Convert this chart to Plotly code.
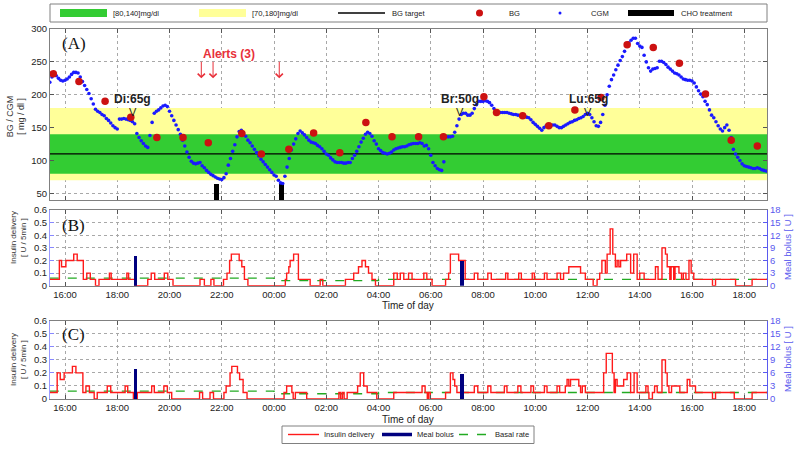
import plotly.graph_objects as go

# ---------------- data ----------------
cgm_start = "15:25"
cgm_step_min = 5
cgm_values = [
    219, 227, 232, 229, 225, 222, 221, 222, 224, 227, 231, 234,   # 15:25
    234, 233, 227, 220, 214, 208, 202, 194, 186, 178, 175, 173,   # 16:25
    170, 168, 164, 161, 157, 153, 150, 148, 163, 163, 164, 163,   # 17:25
    162, 161, 159, 156, 141, 135, 130, 126, 122, 120, 138, 158,   # 18:25
    172, 175, 177, 180, 183, 184, 182, 175, 168, 161, 154, 147,   # 19:25
    140, 131, 122, 113, 105, 99, 96, 95, 96, 97, 92, 89,          # 20:25
    85, 82, 79, 77, 75, 73, 72, 71, 74, 80, 93, 103,              # 21:25
    114, 124, 136, 144, 146, 142, 137, 131, 127, 122, 117, 112,   # 22:25
    107, 102, 98, 94, 90, 86, 82, 78, 76, 70, 66, 65,             # 23:25
    76, 90, 103, 116, 125, 133, 141, 145, 142, 139, 135, 131,     # 00:25
    128, 127, 126, 123, 121, 118, 114, 110, 108, 104, 101, 98,    # 01:25
    97, 97, 97, 96, 96, 97, 97, 103, 108, 114, 121, 128,          # 02:25
    134, 140, 143, 141, 137, 130, 125, 118, 115, 112, 111, 110,   # 03:25
    111, 113, 116, 118, 119, 120, 121, 121, 122, 124, 125, 126,   # 04:25
    126, 126, 127, 126, 122, 123, 118, 108, 97, 92, 88, 86,       # 05:25
    85, 98, None, 136, 136, 137, 143, 153, 163, 170, 172, 172,    # 06:25
    169, 169, 172, 179, 185, 190, 190, 190, 191, 190, 188, 184,   # 07:25
    179, 174, 173, 173, 173, 173, 173, 172, 171, 170, 170, 169,   # 08:25
    168, 168, 167, 166, 165, 162, 158, 155, 152, 149, 146, 150,   # 09:25
    153, 153, 153, 154, 154, 152, 150, 150, 152, 154, 156, 158,   # 10:25
    159, 161, 162, 164, 165, 167, 170, 172, 170, 165, 159, 153,   # 11:25
    152, 158, 170, 184, 200, 213, 223, 230, 238, 245, 252, 258,   # 12:25
    266, 274, 279, 283, 286, 286, 278, 274, 272, 260, 250, 241,   # 13:25
    236, 239, 240, 241, 251, 251, 249, 246, 242, 239, 236, 233,   # 14:25
    232, 230, 227, 224, 223, 222, 222, 221, 218, 212, 206, 201,   # 15:25
    197, 190, 185, 177, 169, 165, 159, 153, 148, 145, 150, 154,   # 16:25
    146, 135, 117, 110, 105, 100, 95, 92, 91, 90, 89, 88,         # 17:25
    88, 89, 88, 86, 85, 84,                                       # 18:25
]

bg_times = ["15:33", "16:32", "17:32", "18:31", "19:31", "20:31", "21:29",
            "22:46", "23:31", "00:34", "01:31", "02:31", "03:31", "04:31",
            "05:32", "06:29", "08:02", "08:31", "09:31", "10:31", "11:31",
            "12:31", "13:31", "14:31", "15:31", "16:31", "17:30", "18:30"]
bg_values = [232, 220, 190, 166, 135, 135, 127, 141, 110, 117, 142, 112, 158, 136,
             136, 136, 197, 173, 168, 153, 177, 196, 276, 272, 248, 201, 131, 122]

cho_times = ["21:47", "00:18"]
cho_level = [65, 65]

alert_times = ["21:13", "21:40", "00:12"]
alert_label = "Alerts (3)"

meal_times = ["18:36", "07:08", "12:02"]
meal_labels = ["Di:65g", "Br:50g", "Lu:65g"]

bolus_times = ["18:42", "07:12"]
bolus_units = [7.0, 5.8]

target_bg = 110
tight_range = [80, 140]
wide_range = [70, 180]

basal_times = ["15:25", "00:00", "04:00", "18:52"]
basal_rates = [0.06, 0.04, 0.05, 0.05]

insB_times = ["15:25", "15:47", "15:52", "16:02", "16:20", "16:28", "16:42", "16:50", "16:58",
              "17:10", "17:18", "17:42", "17:46", "18:22", "18:26", "18:40", "19:10", "19:18",
              "19:26", "19:48", "19:56", "20:08", "21:10", "21:20", "21:35", "21:42", "22:04",
              "22:12", "22:18", "22:22", "22:40", "22:46", "22:52", "23:00", "00:26", "00:29",
              "00:34", "00:37", "00:45", "00:56", "01:23", "01:46", "01:52", "02:44", "03:03",
              "03:14", "03:22", "03:30", "03:37", "03:45", "03:53", "04:35", "04:43", "04:50",
              "04:58", "05:09", "05:17", "05:44", "05:51", "06:03", "06:34", "06:41", "06:45",
              "07:04", "07:19", "07:40", "07:48", "08:11", "08:19", "08:52", "08:57", "09:22",
              "09:28", "09:53", "09:58", "10:21", "10:27", "10:50", "10:58", "11:05", "11:17",
              "11:44", "11:55", "12:13", "12:22", "12:28", "12:33", "12:41", "12:45", "12:52",
              "12:58", "13:04", "13:08", "13:12", "13:16", "13:30", "13:39", "13:46", "13:54",
              "14:00", "14:10", "14:36", "14:42", "14:51", "14:59", "15:03", "15:09", "15:12",
              "15:18", "15:21", "15:30", "15:36", "15:40", "15:46", "15:53", "15:58", "16:04",
              "16:47", "16:54", "17:40", "18:18", "18:52"]
insB_rates = [0.05, 0.2, 0.15, 0.2, 0.25, 0.2, 0.05, 0.1, 0.05,
              0, 0.05, 0.1, 0.05, 0.1, 0.05, 0, 0.05, 0.1,
              0.05, 0.1, 0.05, 0, 0.05, 0, 0.05, 0, 0.05,
              0.1, 0.2, 0.25, 0.2, 0.15, 0.05, 0, 0.05, 0.1,
              0.15, 0.2, 0.25, 0.05, 0, 0.05, 0, 0.05, 0.1,
              0.15, 0.2, 0.15, 0.1, 0.05, 0, 0.1, 0.05, 0.1,
              0.05, 0.1, 0.05, 0.1, 0.05, 0, 0.05, 0.1, 0.25,
              0.2, 0.05, 0.1, 0.05, 0.1, 0.05, 0.1, 0.05, 0.1,
              0.05, 0.1, 0.05, 0.1, 0.05, 0.1, 0.05, 0.1, 0.15,
              0.1, 0.05, 0, 0.05, 0.1, 0.2, 0.1, 0.25, 0.45,
              0.25, 0.15, 0.2, 0.15, 0.2, 0.25, 0.1, 0.25, 0.05,
              0.1, 0.05, 0.15, 0.05, 0.3, 0.25, 0.15, 0.05, 0.15,
              0.05, 0.15, 0.1, 0.05, 0.1, 0.05, 0.2, 0.1, 0.05,
              0, 0.05, 0, 0.05, 0.05]

insC_times = ["15:25", "15:42", "15:49", "15:58", "16:17", "16:25", "16:41", "16:48", "16:56",
              "17:07", "17:14", "17:37", "17:45", "18:18", "18:24", "18:37", "18:46", "19:19",
              "19:25", "19:47", "19:55", "20:05", "21:09", "21:16", "21:33", "21:41", "22:05",
              "22:10", "22:19", "22:23", "22:36", "22:41", "22:49", "22:58", "00:23", "00:29",
              "00:41", "00:44", "00:49", "01:15", "02:29", "02:33", "02:37", "02:41", "02:48",
              "03:12", "03:18", "03:26", "03:34", "03:56", "04:35", "05:40", "05:47", "05:52",
              "05:55", "05:59", "06:34", "06:45", "06:51", "06:55", "07:00", "07:40", "07:48",
              "08:11", "08:18", "08:49", "08:55", "09:20", "09:27", "09:50", "09:56", "10:21",
              "10:27", "10:50", "10:56", "11:09", "11:13", "11:17", "11:21", "11:40", "11:44",
              "11:48", "11:55", "12:37", "12:43", "12:57", "13:01", "13:04", "13:08", "13:23",
              "13:31", "13:39", "13:47", "13:54", "14:14", "14:19", "14:21", "14:29", "14:34",
              "14:40", "14:51", "14:59", "15:03", "15:07", "15:13", "15:32", "15:49", "15:55",
              "16:08", "16:47", "16:54", "17:37", "18:18", "18:52"]
insC_rates = [0.05, 0.2, 0.15, 0.2, 0.25, 0.2, 0.05, 0.1, 0.05,
              0, 0.05, 0.1, 0.05, 0.1, 0.05, 0, 0.05, 0.1,
              0.05, 0.1, 0.05, 0, 0.05, 0, 0.05, 0, 0.05,
              0.1, 0.2, 0.25, 0.2, 0.15, 0.05, 0, 0.05, 0.1,
              0.05, 0, 0.05, 0, 0.05, 0, 0.05, 0, 0.05,
              0.1, 0.2, 0.1, 0.05, 0, 0.05, 0.1, 0.05, 0,
              0.05, 0, 0.05, 0.2, 0.15, 0.1, 0.05, 0.1, 0.05,
              0.1, 0.05, 0.1, 0.05, 0.1, 0.05, 0.1, 0.05, 0.1,
              0.05, 0.1, 0.05, 0.1, 0.15, 0.1, 0.15, 0.1, 0.05,
              0.1, 0.05, 0.2, 0.35, 0.2, 0.05, 0.15, 0.1, 0.15,
              0.2, 0.05, 0.2, 0.05, 0.1, 0.05, 0, 0.05, 0.1,
              0.05, 0.3, 0.2, 0.1, 0.05, 0.1, 0.05, 0.15, 0.1,
              0.05, 0, 0.05, 0, 0.05, 0.05]

tick_hours = [16, 18, 20, 22, 24, 26, 28, 30, 32, 34, 36, 38, 40, 42]
tick_labels = ["16:00", "18:00", "20:00", "22:00", "00:00", "02:00", "04:00",
               "06:00", "08:00", "10:00", "12:00", "14:00", "16:00", "18:00"]
x_range = [15.425, 42.87]


def seq_h(times):
    """Chronological 'HH:MM' strings -> hours since day-1 midnight."""
    out, off, prev = [], 0.0, None
    for s in times:
        h, m = s.split(":")
        v = int(h) + int(m) / 60.0 + off
        if prev is not None and v < prev:
            off += 24
            v += 24
        out.append(v)
        prev = v
    return out


cgm_x = [seq_h([cgm_start])[0] + i * cgm_step_min / 60.0 for i in range(len(cgm_values))]

# ---------------- colours / fonts ----------------
GREEN = "#33cc33"
YELLOW = "#ffff99"
RED_DOT = "#cc1111"
CGM_BLUE = "#1a1aff"
INS_RED = "#ff1a1a"
NAVY = "#00007f"
BASAL_GREEN = "#22aa22"
RIGHT_BLUE = "#5a5aee"
FONT = "Liberation Sans, Arial, sans-serif"


# pixel helpers (plot area: x 50..767, y 29..399)
def pxx(x):
    return (x - 50) / 717.0


def pyy(y):
    return (399 - y) / 370.0


fig = go.Figure()

# ---- Panel A ----
fig.add_trace(go.Scatter(x=[x_range[0], x_range[1], x_range[1], x_range[0]],
                         y=[wide_range[0], wide_range[0], wide_range[1], wide_range[1]],
                         fill="toself", fillcolor=YELLOW, mode="lines", line=dict(width=0),
                         hoverinfo="skip", xaxis="x", yaxis="y", showlegend=False,
                         name="[70,180]mg/dl"))
fig.add_trace(go.Scatter(x=[x_range[0], x_range[1], x_range[1], x_range[0]],
                         y=[tight_range[0], tight_range[0], tight_range[1], tight_range[1]],
                         fill="toself", fillcolor=GREEN, mode="lines", line=dict(width=0),
                         hoverinfo="skip", xaxis="x", yaxis="y", showlegend=False,
                         name="[80,140]mg/dl"))
fig.add_trace(go.Scatter(x=x_range, y=[target_bg, target_bg], mode="lines",
                         line=dict(color="black", width=1.3), hoverinfo="skip",
                         xaxis="x", yaxis="y", showlegend=False, name="BG target"))
fig.add_trace(go.Bar(x=seq_h(cho_times), y=cho_level, width=0.19,
                     marker=dict(color="black", line=dict(width=0)),
                     xaxis="x", yaxis="y", showlegend=False, name="CHO treatment"))
fig.add_trace(go.Scatter(x=cgm_x, y=cgm_values, mode="markers",
                         marker=dict(color=CGM_BLUE, size=3.6),
                         xaxis="x", yaxis="y", showlegend=False, name="CGM"))
fig.add_trace(go.Scatter(x=seq_h(bg_times), y=bg_values, mode="markers",
                         marker=dict(color=RED_DOT, size=7.5),
                         xaxis="x", yaxis="y", showlegend=False, name="BG"))

# ---- Panels B and C ----
for xa, ya, yr, times, rates in [("x2", "y2", "y3", insB_times, insB_rates),
                                 ("x3", "y4", "y5", insC_times, insC_rates)]:
    fig.add_trace(go.Scatter(x=seq_h(basal_times), y=basal_rates, mode="lines",
                             line=dict(color=BASAL_GREEN, width=1.4, dash="dash", shape="hv"),
                             xaxis=xa, yaxis=ya, showlegend=False, name="Basal rate"))
    fig.add_trace(go.Scatter(x=seq_h(times), y=rates, mode="lines",
                             line=dict(color=INS_RED, width=1.4, shape="hv"),
                             xaxis=xa, yaxis=ya, showlegend=False, name="Insulin delivery"))
    fig.add_trace(go.Bar(x=seq_h(bolus_times), y=bolus_units, width=0.13,
                         marker=dict(color=NAVY, line=dict(width=0)),
                         xaxis=xa, yaxis=yr, showlegend=False, name="Meal bolus"))

# ---- axes ----
grid = dict(showgrid=True, gridcolor="#a8a8a8", griddash="dot", gridwidth=1)
xcommon = dict(range=x_range, tickvals=tick_hours, ticktext=tick_labels,
               ticks="inside", ticklen=4, tickcolor="#555", showline=True,
               linecolor="#808080", linewidth=1, mirror="ticks", zeroline=False,
               tickfont=dict(family=FONT, size=9.5, color="#222"), **grid)

layout = dict(
    width=800, height=449,
    margin=dict(l=50, r=33, t=29, b=50),
    paper_bgcolor="white", plot_bgcolor="white",
    bargap=0, barmode="overlay",
    font=dict(family=FONT, color="#222"),
    xaxis=dict(domain=[0, 1], anchor="y", showticklabels=False, **xcommon),
    xaxis2=dict(domain=[0, 1], anchor="y2", showticklabels=True, **xcommon),
    xaxis3=dict(domain=[0, 1], anchor="y4", showticklabels=True, **xcommon),
    yaxis=dict(domain=[pyy(200), pyy(29)], range=[40, 300], tickvals=[50, 100, 150, 200, 250, 300],
               ticks="inside", ticklen=4, tickcolor="#555", showline=True, linecolor="#808080",
               mirror="ticks", zeroline=False, tickfont=dict(family=FONT, size=9.5, color="#222"),
               anchor="x", **grid),
)
for name, dom, anchor in [("yaxis2", [pyy(285.7), pyy(210)], "x2"),
                          ("yaxis4", [pyy(399), pyy(320.7)], "x3")]:
    layout[name] = dict(domain=dom, range=[0, 0.6], tickvals=[0, 0.1, 0.2, 0.3, 0.4, 0.5, 0.6],
                        ticktext=["0", "0.1", "0.2", "0.3", "0.4", "0.5", "0.6"],
                        ticks="inside", ticklen=4, tickcolor="#8888ff", showline=True,
                        linecolor="#9a9aff", mirror=True, zeroline=False,
                        tickfont=dict(family=FONT, size=9.5, color="#222"),
                        anchor=anchor, **grid)
for name, over, anchor in [("yaxis3", "y2", "x2"), ("yaxis5", "y4", "x3")]:
    layout[name] = dict(overlaying=over, anchor=anchor, side="right", range=[0, 18],
                        tickvals=[0, 3, 6, 9, 12, 15, 18], ticks="inside", ticklen=4,
                        tickcolor=RIGHT_BLUE, showline=True, linecolor=RIGHT_BLUE,
                        showgrid=False, zeroline=False,
                        tickfont=dict(family=FONT, size=9.5, color=RIGHT_BLUE))
fig.update_layout(**layout)

shapes = []
annotations = []

# panel letters
for txt, ref_y, yy in [("(A)", "y domain", 0.915), ("(B)", "y2 domain", 0.79),
                       ("(C)", "y4 domain", 0.82)]:
    annotations.append(dict(text=txt, xref="x domain", yref=ref_y, x=0.014, y=yy,
                            xanchor="left", yanchor="middle", showarrow=False,
                            font=dict(family="Liberation Serif, Times New Roman, serif",
                                      size=17, color="#111")))

# alerts
alert_x = seq_h(alert_times)
annotations.append(dict(text="<b>%s</b>" % alert_label, xref="x", yref="y",
                        x=(alert_x[0] + alert_x[1]) / 2 + 0.85, y=262,
                        showarrow=False, font=dict(family=FONT, size=12, color="#e8303a")))
for ax_ in alert_x:
    annotations.append(dict(text="", xref="x", yref="y", x=ax_, y=225, ax=0, ay=-18,
                            showarrow=True, arrowhead=4, arrowsize=1.4, arrowwidth=1,
                            arrowcolor="#e8303a"))

# meal labels
for mx, lab in zip(seq_h(meal_times), meal_labels):
    annotations.append(dict(text="<b>%s</b>" % lab, xref="x", yref="y", x=mx, y=194,
                            showarrow=False, font=dict(family=FONT, size=12, color="#222")))
    annotations.append(dict(text="V", xref="x", yref="y", x=mx, y=194, yshift=-13,
                            showarrow=False, font=dict(family=FONT, size=11, color="#222")))


# axis titles
def vtitle(text, xp, yp, color="#333", size=9):
    annotations.append(dict(text=text, xref="paper", yref="paper", x=pxx(xp), y=pyy(yp),
                            xanchor="center", yanchor="middle", textangle=-90,
                            showarrow=False, font=dict(family=FONT, size=size, color=color)))


vtitle("BG / CGM<br>[ mg / dl ]", 15.5, 116.7, size=9)
vtitle("Insulin delivery<br>[ U / 5min ]", 18, 238, size=8)
vtitle("Insulin delivery<br>[ U / 5min ]", 18, 360, size=8)
vtitle("Meal bolus [ U ]", 787, 247, color=RIGHT_BLUE, size=9.5)
vtitle("Meal bolus [ U ]", 787, 359, color=RIGHT_BLUE, size=9.5)

for yc in [305.5, 419.5]:
    annotations.append(dict(text="Time of day", xref="paper", yref="paper", x=pxx(408),
                            y=pyy(yc), xanchor="center", yanchor="middle", showarrow=False,
                            font=dict(family=FONT, size=10, color="#222")))

# ---- top legend (drawn) ----
LEG_FONT = dict(family=FONT, size=7.6, color="#222")
shapes.append(dict(type="rect", xref="paper", yref="paper", x0=pxx(50), x1=pxx(767),
                   y0=pyy(22), y1=pyy(4), line=dict(color="#808080", width=1),
                   fillcolor="white", layer="above"))
yc = 13


def leg_text(txt, x, y):
    annotations.append(dict(text=txt, xref="paper", yref="paper", x=pxx(x), y=pyy(y),
                            xanchor="left", yanchor="middle", showarrow=False, font=LEG_FONT))


shapes.append(dict(type="rect", xref="paper", yref="paper", x0=pxx(60), x1=pxx(107),
                   y0=pyy(17), y1=pyy(9), fillcolor=GREEN, line=dict(width=0), layer="above"))
leg_text("[80,140]mg/dl", 111, yc)
shapes.append(dict(type="rect", xref="paper", yref="paper", x0=pxx(199), x1=pxx(246),
                   y0=pyy(17), y1=pyy(9), fillcolor=YELLOW, line=dict(width=0), layer="above"))
leg_text("[70,180]mg/dl", 250, yc)
shapes.append(dict(type="line", xref="paper", yref="paper", x0=pxx(338), x1=pxx(385),
                   y0=pyy(yc), y1=pyy(yc), line=dict(color="black", width=1.3), layer="above"))
leg_text("BG target", 390, yc)
shapes.append(dict(type="circle", xref="paper", yref="paper", x0=pxx(476), x1=pxx(483),
                   y0=pyy(16.5), y1=pyy(9.5), fillcolor=RED_DOT, line=dict(width=0), layer="above"))
leg_text("BG", 507, yc)
shapes.append(dict(type="circle", xref="paper", yref="paper", x0=pxx(558.5), x1=pxx(561.5),
                   y0=pyy(14.5), y1=pyy(11.5), fillcolor=CGM_BLUE, line=dict(width=0), layer="above"))
leg_text("CGM", 589, yc)
shapes.append(dict(type="rect", xref="paper", yref="paper", x0=pxx(628), x1=pxx(674),
                   y0=pyy(16), y1=pyy(10), fillcolor="black", line=dict(width=0), layer="above"))
leg_text("CHO treatment", 679, yc)

# ---- bottom legend (drawn) ----
shapes.append(dict(type="rect", xref="paper", yref="paper", x0=pxx(282), x1=pxx(534),
                   y0=pyy(443.5), y1=pyy(426), line=dict(color="#808080", width=1),
                   fillcolor="white", layer="above"))
yb = 434.5
shapes.append(dict(type="line", xref="paper", yref="paper", x0=pxx(288), x1=pxx(319),
                   y0=pyy(yb), y1=pyy(yb), line=dict(color=INS_RED, width=1.4), layer="above"))
leg_text("Insulin delivery", 322, yb)
shapes.append(dict(type="line", xref="paper", yref="paper", x0=pxx(382), x1=pxx(412),
                   y0=pyy(yb), y1=pyy(yb), line=dict(color=NAVY, width=3.5), layer="above"))
leg_text("Meal bolus", 415, yb)
shapes.append(dict(type="line", xref="paper", yref="paper", x0=pxx(459), x1=pxx(490),
                   y0=pyy(yb), y1=pyy(yb), line=dict(color=BASAL_GREEN, width=1.4, dash="dash"),
                   layer="above"))
leg_text("Basal rate", 493, yb)

fig.update_layout(shapes=shapes, annotations=annotations)
fig.write_html("out.html", config={"displayModeBar": False},
               post_script="document.body.style.margin='0';document.body.style.padding='0';")
